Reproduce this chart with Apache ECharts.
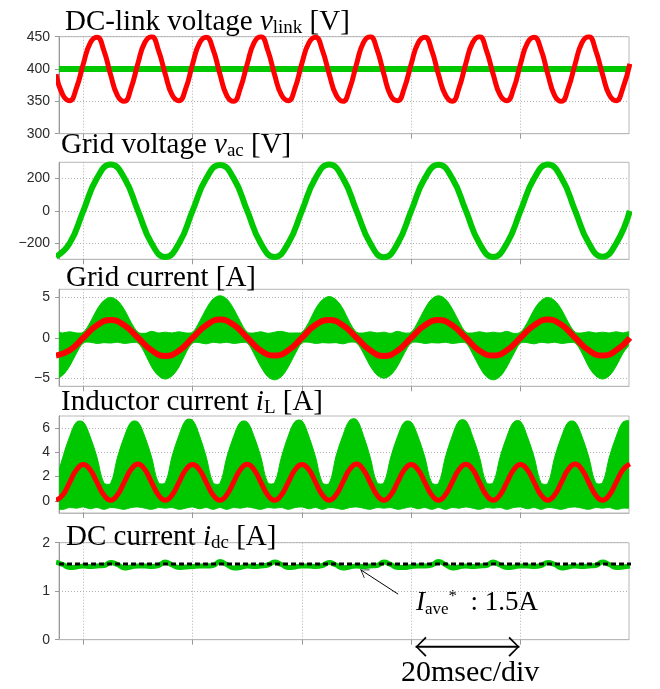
<!DOCTYPE html>
<html>
<head>
<meta charset="utf-8">
<script src="https://cdn.jsdelivr.net/npm/echarts@6/dist/echarts.min.js"></script>
<style>
html, body { margin: 0; padding: 0; background: #fff; }
#chart { width: 660px; height: 689px; }
</style>
</head>
<body>
<div id="chart"></div>
<script>
// time in msec, 0 = rising zero crossing of the grid voltage
var t50 = [
    -5, -2.5, 0, 2.5, 5, 7.5, 10, 12.5,
    15, 17.5, 20, 22.5, 25, 27.5, 30, 32.5,
    35, 37.5, 40, 42.5, 45, 47.5, 50, 52.5,
    55, 57.5, 60, 62.5, 65, 67.5, 70, 72.5,
    75, 77.5, 80, 82.5, 85, 87.5, 90, 92.5,
    95, 97.5, 100
];
var t100 = [
    -5, -3.75, -2.5, -1.25, 0, 1.25, 2.5, 3.75,
    5, 6.25, 7.5, 8.75, 10, 11.25, 12.5, 13.75,
    15, 16.25, 17.5, 18.75, 20, 21.25, 22.5, 23.75,
    25, 26.25, 27.5, 28.75, 30, 31.25, 32.5, 33.75,
    35, 36.25, 37.5, 38.75, 40, 41.25, 42.5, 43.75,
    45, 46.25, 47.5, 48.75, 50, 51.25, 52.5, 53.75,
    55, 56.25, 57.5, 58.75, 60, 61.25, 62.5, 63.75,
    65, 66.25, 67.5, 68.75, 70, 71.25, 72.5, 73.75,
    75, 76.25, 77.5, 78.75, 80, 81.25, 82.5, 83.75,
    85, 86.25, 87.5, 88.75, 90, 91.25, 92.5, 93.75,
    95, 96.25, 97.5, 98.75, 100
];

// DC-link voltage [V]
var vlinkRefT = [-4.45, 99.85];
var vlinkRef = [400, 400];
var vlink = [
    392, 360, 351, 371, 408, 440, 449, 429,
    391, 359, 350, 371, 409, 441, 450, 429,
    392, 360, 351, 370, 408, 440, 449, 430,
    392, 359, 350, 371, 408, 441, 450, 429,
    391, 360, 351, 371, 409, 440, 449, 429,
    392, 360, 350, 370, 408, 441, 450, 430,
    392, 359, 351, 371, 408, 440, 449, 429,
    391, 360, 350, 371, 409, 441, 450, 429,
    392, 360, 351, 370, 408, 440, 449, 430,
    392, 359, 350, 371, 408, 441, 450, 429,
    392, 360, 351, 371, 408
];

// grid voltage [V]
var vac = [
    -284, -201, 0, 202, 286, 203, 0, -202,
    -286, -202, 1, 201, 284, 202, -1, -203,
    -285, -201, 0, 203, 287, 202, 0, -201,
    -287, -203, 0, 202, 285, 201, 1, -202,
    -285, -202, -1, 201, 286, 203, 0, -201,
    -284, -202, 0
];

// grid current [A]: average (red) and switching envelope (green)
var igrid = [
    -2.2, -1.55, 0, 1.55, 2.2, 1.55, 0, -1.55,
    -2.25, -1.6, 0, 1.55, 2.25, 1.6, 0, -1.6,
    -2.2, -1.55, 0, 1.6, 2.2, 1.55, 0, -1.55,
    -2.25, -1.6, 0, 1.55, 2.2, 1.55, 0, -1.6,
    -2.2, -1.55, 0, 1.55, 2.25, 1.6, 0, -1.55,
    -2.2, -1.55, 0
];
var igridHi = [
    0.7, 0.6, 0.75, 0.6, 0.7, 1.9, 3.5, 4.6,
    5.0, 4.6, 3.5, 1.9, 0.7, 0.55, 0.8, 0.6,
    0.7, 0.6, 0.75, 0.6, 0.7, 2.0, 3.6, 4.8,
    5.2, 4.8, 3.6, 2.0, 0.7, 0.6, 0.75, 0.55,
    0.7, 0.8, 0.6, 0.6, 0.7, 1.9, 3.6, 4.7,
    5.1, 4.7, 3.6, 1.9, 0.7, 0.6, 0.75, 0.6,
    0.7, 0.55, 0.8, 0.6, 0.7, 2.0, 3.6, 4.8,
    5.2, 4.8, 3.6, 2.0, 0.7, 0.6, 0.75, 0.6,
    0.7, 0.6, 0.8, 0.55, 0.7, 1.9, 3.5, 4.6,
    5.0, 4.6, 3.5, 1.9, 0.7, 0.6, 0.75, 0.6,
    0.7, 0.6, 0.75, 0.6, 0.7
];
var igridLo = [
    -5.0, -4.6, -3.5, -1.9, -0.65, -0.55, -0.7, -0.6,
    -0.65, -0.55, -0.7, -0.6, -0.65, -1.9, -3.6, -4.7,
    -5.1, -4.7, -3.6, -1.9, -0.65, -0.6, -0.75, -0.55,
    -0.65, -0.55, -0.7, -0.6, -0.65, -2.0, -3.6, -4.8,
    -5.2, -4.8, -3.6, -2.0, -0.65, -0.55, -0.7, -0.6,
    -0.65, -0.6, -0.75, -0.55, -0.65, -1.9, -3.5, -4.6,
    -5.0, -4.6, -3.5, -1.9, -0.65, -0.55, -0.7, -0.6,
    -0.65, -0.55, -0.7, -0.6, -0.65, -2.0, -3.6, -4.8,
    -5.2, -4.8, -3.6, -2.0, -0.65, -0.6, -0.75, -0.55,
    -0.65, -0.55, -0.7, -0.6, -0.65, -1.9, -3.6, -4.7,
    -5.1, -4.7, -3.5, -1.9, -0.65
];

// inductor current [A]
var iL = [
    0.06, 0.49, 1.53, 2.57, 3.0, 2.57, 1.53, 0.49,
    0.05, 0.5, 1.55, 2.6, 3.05, 2.58, 1.52, 0.48,
    0.06, 0.49, 1.53, 2.57, 3.0, 2.57, 1.53, 0.49,
    0.05, 0.5, 1.54, 2.58, 3.02, 2.57, 1.52, 0.48,
    0.06, 0.49, 1.53, 2.57, 3.0, 2.58, 1.53, 0.49,
    0.05, 0.5, 1.55, 2.6, 3.05, 2.57, 1.52, 0.48,
    0.06, 0.49, 1.53, 2.57, 3.0, 2.57, 1.53, 0.49,
    0.05, 0.5, 1.54, 2.58, 3.02, 2.58, 1.52, 0.48,
    0.06, 0.49, 1.53, 2.57, 3.0, 2.57, 1.53, 0.49,
    0.05, 0.5, 1.55, 2.6, 3.05, 2.57, 1.52, 0.48,
    0.06, 0.49, 1.53, 2.57, 3.05
];
var iLHi = [
    1.5, 3.6, 5.3, 6.5, 6.5, 5.3, 3.6, 1.5,
    1.45, 3.6, 5.3, 6.5, 6.5, 5.3, 3.6, 1.5,
    1.5, 3.7, 5.4, 6.65, 6.65, 5.4, 3.6, 1.5,
    1.45, 3.6, 5.3, 6.5, 6.5, 5.3, 3.6, 1.5,
    1.5, 3.6, 5.35, 6.55, 6.6, 5.35, 3.6, 1.5,
    1.45, 3.7, 5.4, 6.65, 6.7, 5.4, 3.6, 1.5,
    1.5, 3.6, 5.3, 6.5, 6.5, 5.3, 3.6, 1.5,
    1.45, 3.6, 5.35, 6.6, 6.6, 5.3, 3.6, 1.5,
    1.5, 3.6, 5.3, 6.5, 6.55, 5.3, 3.6, 1.5,
    1.45, 3.6, 5.3, 6.5, 6.5, 5.3, 3.6, 1.5,
    1.5, 3.6, 5.3, 6.5, 6.5
];
var iLLo = [
    -0.55, -0.7, -0.55, -0.6, -0.5, -0.65, -0.55, -0.7,
    -0.55, -0.6, -0.7, -0.55, -0.5, -0.6, -0.7, -0.55,
    -0.6, -0.55, -0.7, -0.6, -0.5, -0.65, -0.55, -0.7,
    -0.55, -0.7, -0.55, -0.6, -0.5, -0.6, -0.7, -0.55,
    -0.6, -0.55, -0.7, -0.55, -0.5, -0.65, -0.55, -0.7,
    -0.55, -0.6, -0.7, -0.55, -0.5, -0.6, -0.7, -0.55,
    -0.6, -0.55, -0.7, -0.6, -0.5, -0.65, -0.55, -0.7,
    -0.55, -0.7, -0.55, -0.6, -0.5, -0.6, -0.7, -0.55,
    -0.6, -0.55, -0.7, -0.55, -0.5, -0.65, -0.55, -0.7,
    -0.55, -0.6, -0.7, -0.55, -0.5, -0.6, -0.7, -0.55,
    -0.6, -0.55, -0.7, -0.6, -0.5
];

// DC current [A]
var idc = [
    1.60, 1.55, 1.49, 1.50, 1.52, 1.51, 1.52, 1.53,
    1.59, 1.55, 1.48, 1.50, 1.52, 1.52, 1.51, 1.53,
    1.60, 1.54, 1.49, 1.50, 1.51, 1.52, 1.52, 1.53,
    1.61, 1.55, 1.48, 1.49, 1.52, 1.51, 1.52, 1.54,
    1.60, 1.55, 1.49, 1.50, 1.52, 1.52, 1.51, 1.53,
    1.59, 1.54, 1.48, 1.50, 1.52, 1.51, 1.52, 1.53,
    1.60, 1.55, 1.49, 1.49, 1.51, 1.52, 1.52, 1.54,
    1.61, 1.55, 1.48, 1.50, 1.52, 1.51, 1.52, 1.53,
    1.60, 1.54, 1.49, 1.50, 1.52, 1.52, 1.51, 1.53,
    1.59, 1.55, 1.48, 1.50, 1.52, 1.51, 1.52, 1.53,
    1.60, 1.55, 1.49, 1.50, 1.52
];
var idcRefT = [-4.45, 102.4];
var idcRef = [1.56, 1.56];

// annotation arrow (I_ave*) and 20 msec/div marker, in data units of the last panel
var noteT = [57.6, 50.7];
var noteV = [0.94, 1.445];
var divT = [60.8, 79.8];
var divV = [-0.145, -0.145];

// axes
var xDivs = [0, 20, 40, 60, 80];
var yMin = [300, -300, -6, -1, 0];
var yMax = [450, 300, 6, 7, 2];
var yTicks = [[300, 350, 400, 450], [-200, 0, 200], [-5, 0, 5], [0, 2, 4, 6], [0, 1, 2]];

var GREEN = '#00c800';
var RED = '#ff0000';
var SERIF = "'Liberation Serif', 'Times New Roman', serif";
var SANS = "'Liberation Sans', Arial, sans-serif";

function pairs(t, v) {
    var out = [];
    for (var i = 0; i < v.length; i++) out.push([t[i], v[i]]);
    return out;
}

var myChart = echarts.init(document.getElementById('chart'));

var tops = [36.7, 162.3, 289.3, 416, 542.7];
var grids = [], xAxes = [], yAxes = [];
for (var k = 0; k < 5; k++) {
    grids.push({
        left: 59, width: 570, top: tops[k], height: 97,
        show: true, borderColor: '#b8b8b8', borderWidth: 1
    });
    xAxes.push({
        type: 'value', gridIndex: k, min: -4.45, max: 99.85,
        axisLine: { show: true, onZero: false, lineStyle: { color: '#b8b8b8' } },
        axisTick: { show: true, length: 5, customValues: xDivs, lineStyle: { color: '#999' } },
        axisLabel: { show: false },
        splitLine: { show: true, lineStyle: { color: '#b0b0b0', type: [1, 2] } }
    });
    yAxes.push({
        type: 'value', gridIndex: k, min: yMin[k], max: yMax[k],
        axisLine: { show: true, onZero: false, lineStyle: { color: '#999' } },
        axisTick: { show: true, length: 4, customValues: yTicks[k], lineStyle: { color: '#999' } },
        axisLabel: {
            customValues: yTicks[k], margin: 9, fontSize: 14, color: '#2a2a2a', fontFamily: SANS,
            formatter: function (v) { return v < 0 ? '\u2212' + (-v) : '' + v; }
        },
        splitLine: { show: true, lineStyle: { color: '#b0b0b0', type: [1, 2] } }
    });
}

function line(idx, data, color, width) {
    return {
        type: 'line', xAxisIndex: idx, yAxisIndex: idx, data: data,
        showSymbol: false, smooth: 0.5, silent: true,
        lineStyle: { color: color, width: width }
    };
}

// switching ripple: filled region between upper and lower envelope
function band(idx, hi, lo) {
    return {
        type: 'custom', xAxisIndex: idx, yAxisIndex: idx, clip: true, silent: true,
        data: [[t100[0], hi[0]]],
        renderItem: function (params, api) {
            var pts = [];
            for (var i = 0; i < hi.length; i++) pts.push(api.coord([t100[i], hi[i]]));
            for (var j = lo.length - 1; j >= 0; j--) pts.push(api.coord([t100[j], lo[j]]));
            return {
                type: 'polygon',
                shape: { points: pts, smooth: 0.35 },
                style: { fill: GREEN, stroke: GREEN, lineWidth: 1 }
            };
        }
    };
}

var chevron = 'path://M0,0 L10,14 L9,15 L0,2.2 L-9,15 L-10,14 Z';
var chevronLeft = 'path://M12,0 L13.6,1.3 L2.6,10 L13.6,18.7 L12,20 L0,10 Z';

var series = [];
series.push(line(0, pairs(vlinkRefT, vlinkRef), GREEN, 6));
series.push(line(0, pairs(t100, vlink), RED, 5));
series.push(line(1, pairs(t50, vac), GREEN, 6));
series.push(band(2, igridHi, igridLo));
series.push(line(2, pairs(t50, igrid), RED, 6));
series.push(band(3, iLHi, iLLo));
series.push(line(3, pairs(t100, iL), RED, 5));
series.push(line(4, pairs(t100, idc), GREEN, 5));
series.push({
    type: 'line', xAxisIndex: 4, yAxisIndex: 4, data: pairs(idcRefT, idcRef),
    showSymbol: false, clip: false, silent: true,
    lineStyle: { color: '#000', width: 3, type: [5, 3] }
});
series.push({
    type: 'line', xAxisIndex: 4, yAxisIndex: 4, clip: false, silent: true, showSymbol: true,
    data: [
        { value: [noteT[0], noteV[0]], symbol: 'none' },
        { value: [noteT[1], noteV[1]], symbol: chevron, symbolSize: [10, 8], symbolRotate: 57, symbolOffset: [3.4, 2.2] }
    ],
    itemStyle: { color: '#000' },
    lineStyle: { color: '#000', width: 1 }
});
series.push({
    type: 'line', xAxisIndex: 4, yAxisIndex: 4, clip: false, silent: true, showSymbol: true,
    data: [
        { value: [divT[0], divV[0]], symbol: chevronLeft, symbolSize: [11, 20], symbolOffset: [5.5, 0] },
        { value: [divT[1], divV[1]], symbol: chevronLeft, symbolSize: [11, 20], symbolRotate: 180, symbolOffset: [-5.5, 0] }
    ],
    itemStyle: { color: '#000' },
    lineStyle: { color: '#000', width: 2 }
});

var titleRich = {
    a: { fontFamily: SERIF, fontSize: 29, fontWeight: 'normal', lineHeight: 32, color: '#000' },
    v: { fontFamily: SERIF, fontSize: 29, fontWeight: 'normal', lineHeight: 32, fontStyle: 'italic', color: '#000' },
    s: { fontFamily: SERIF, fontSize: 19, fontWeight: 'normal', lineHeight: 14, verticalAlign: 'bottom', color: '#000' }
};
function title(text, left, top) {
    return {
        text: text, left: left, top: top, padding: 0,
        textStyle: { fontWeight: 'normal', fontFamily: SERIF, rich: titleRich }
    };
}

var option = {
    animation: false,
    backgroundColor: '#fff',
    title: [
        title('{a|DC-link voltage }{v|v}{s|link}{a| [V]}', 65, 6),
        title('{a|Grid voltage }{v|v}{s|ac}{a| [V]}', 61, 129),
        title('{a|Grid current [A]}', 66, 262.5),
        title('{a|Inductor current }{v|i}{s|L}{a| [A]}', 61, 386),
        title('{a|DC current }{v|i}{s|dc}{a| [A]}', 66, 521)
    ],
    grid: grids,
    xAxis: xAxes,
    yAxis: yAxes,
    series: series,
    graphic: [
        {
            type: 'text', x: 416, y: 588, silent: true,
            style: {
                text: '{i|I}{sub|ave}{sup|*}{t|  : 1.5A}',
                rich: {
                    i: { fontFamily: SERIF, fontSize: 27, lineHeight: 30, fontStyle: 'italic', fill: '#000' },
                    sub: { fontFamily: SERIF, fontSize: 17, lineHeight: 15, verticalAlign: 'bottom', fill: '#000' },
                    sup: { fontFamily: SERIF, fontSize: 17, lineHeight: 4, verticalAlign: 'top', fill: '#000' },
                    t: { fontFamily: SERIF, fontSize: 27, lineHeight: 30, fill: '#000' }
                }
            }
        },
        {
            type: 'text', x: 401, y: 657, silent: true,
            style: {
                text: '{t|20msec/div}',
                rich: { t: { fontFamily: SERIF, fontSize: 30, lineHeight: 32, fill: '#000' } }
            }
        }
    ]
};

myChart.setOption(option);
window.addEventListener('resize', function () {
    myChart.resize();
});
</script>
</body>
</html>
